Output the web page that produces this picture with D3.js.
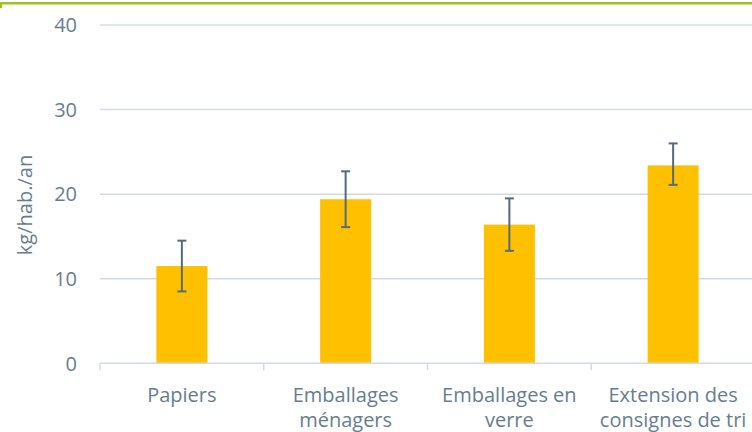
<!DOCTYPE html>
<html><head><meta charset="utf-8">
<script src="https://cdn.jsdelivr.net/npm/d3@7"></script>
<style>
html,body{margin:0;padding:0;background:#fff;overflow:hidden}
text{font-family:"Open Sans",sans-serif}
</style></head>
<body>
<svg id="c" width="752" height="432"></svg>
<script>
const categories = [["Papiers"],["Emballages","ménagers"],["Emballages en","verre"],["Extension des","consignes de tri"]];
const values = [11.5, 19.4, 16.4, 23.4];
const errLow = [8.5, 16.1, 13.3, 21.1];
const errHigh = [14.5, 22.7, 19.5, 26.0];
const yTicks = [0, 10, 20, 30, 40];
const yTitle = "kg/hab./an";

const svg = d3.select("#c");
const textColor = "#687d8c";
const x = d3.scaleBand().domain(d3.range(categories.length)).range([100, 755]).padding(0);
const y = d3.scaleLinear().domain([0, 40]).range([363.3, 25]);

// top frame line
svg.append("rect").attr("x",0).attr("y",2).attr("width",752).attr("height",2.5).attr("fill","#9dc31a");
svg.append("rect").attr("x",0).attr("y",2).attr("width",2).attr("height",6).attr("fill","#9dc31a");

// gridlines
svg.append("g").selectAll("line").data(yTicks.filter(d=>d>0)).join("line")
  .attr("x1",100).attr("x2",760).attr("y1",d=>y(d)).attr("y2",d=>y(d))
  .attr("stroke","#d3dbe1").attr("stroke-width",1.5);

// y tick labels
svg.append("g").selectAll("text").data(yTicks).join("text")
  .attr("x",77).attr("y",d=>y(d)).attr("dy","0.36em").attr("text-anchor","end")
  .attr("font-size",20).attr("fill",textColor).text(d=>d);

// y title
svg.append("text").attr("transform","translate(32,205) rotate(-90)")
  .attr("text-anchor","middle").attr("font-size",20).attr("fill",textColor).text(yTitle);

// bars
const bw = 51;
svg.append("g").selectAll("rect").data(values).join("rect")
  .attr("x",(d,i)=>x(i)+x.bandwidth()/2-bw/2).attr("width",bw)
  .attr("y",d=>y(d)).attr("height",d=>y(0)-y(d)).attr("fill","#ffc000");

// x axis line and ticks
svg.append("line").attr("x1",100).attr("x2",760).attr("y1",y(0)).attr("y2",y(0))
  .attr("stroke","#cfdce6").attr("stroke-width",1.5);
const bounds = d3.range(categories.length+1).map(i=> i<categories.length ? x(i) : x(i-1)+x.bandwidth());
svg.append("g").selectAll("line").data(bounds).join("line")
  .attr("x1",d=>d).attr("x2",d=>d).attr("y1",y(0)).attr("y2",y(0)+7)
  .attr("stroke","#cfdce6").attr("stroke-width",1.5);

// error bars
const eg = svg.append("g").attr("stroke","#566b7a").attr("stroke-width",2);
values.forEach((v,i)=>{
  const cx = x(i)+x.bandwidth()/2;
  eg.append("line").attr("x1",cx).attr("x2",cx).attr("y1",y(errLow[i])).attr("y2",y(errHigh[i]));
  eg.append("line").attr("x1",cx-4.5).attr("x2",cx+4.5).attr("y1",y(errLow[i])).attr("y2",y(errLow[i]));
  eg.append("line").attr("x1",cx-4.5).attr("x2",cx+4.5).attr("y1",y(errHigh[i])).attr("y2",y(errHigh[i]));
});

// category labels
const lg = svg.append("g");
categories.forEach((lines,i)=>{
  const t = lg.append("text").attr("x",x(i)+x.bandwidth()/2).attr("y",402)
    .attr("text-anchor","middle").attr("font-size",20).attr("fill",textColor);
  lines.forEach((l,j)=> t.append("tspan").attr("x",x(i)+x.bandwidth()/2).attr("dy",j===0?0:24.5).text(l));
});
</script>
</body></html>
